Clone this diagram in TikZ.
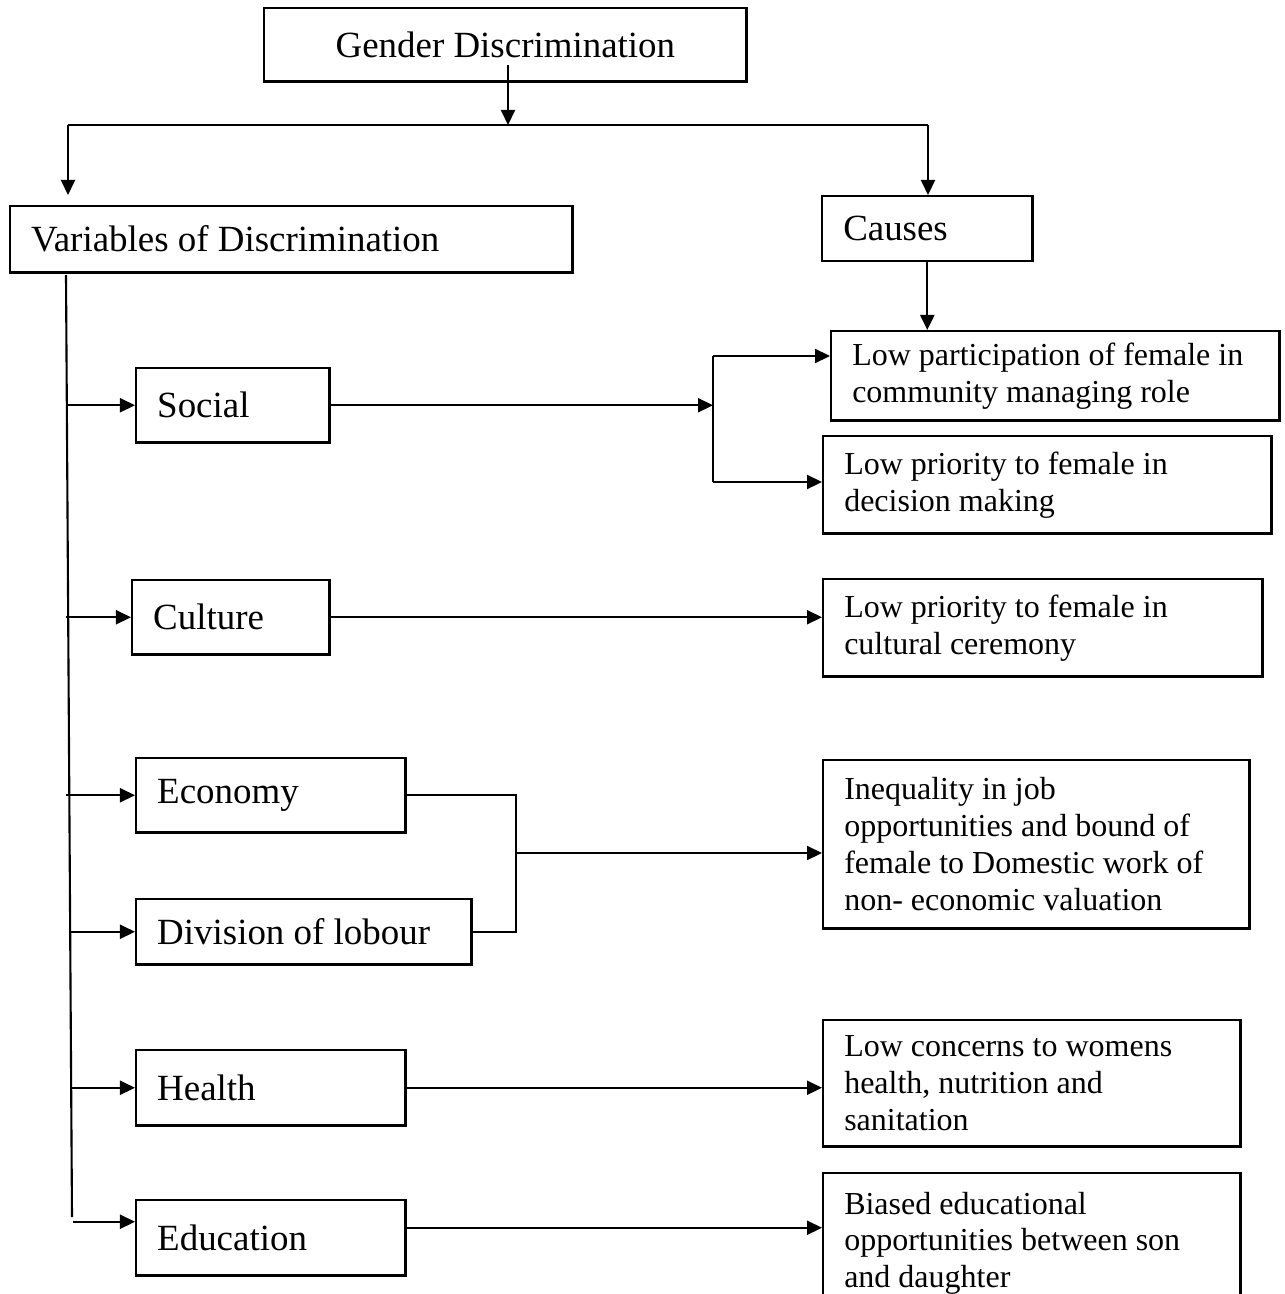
\documentclass[tikz,border=0pt]{standalone}
\usepackage{fontspec}
\setmainfont{Liberation Serif}
\usepackage{tikz}
\usetikzlibrary{arrows.meta, positioning, calc}
\tikzset{
  basebox/.style={rectangle, draw=black, line width=0.7pt, anchor=north west,
                  inner xsep=0.21cm, inner ysep=0pt},
  topnode/.style={basebox, align=center, font=\fontsize{10.5}{12.6}\selectfont},
  varnode/.style={basebox, align=flush left, font=\fontsize{10.5}{12.6}\selectfont},
  causenode/.style={basebox, align=flush left, font=\fontsize{9.1}{10.5}\selectfont},
  plainline/.style={line width=0.6pt, color=black},
  arrow/.style={-{Triangle[length=0.15cm,width=0.14cm]}, line width=0.6pt, color=black}
}
\begin{document}
\begin{tikzpicture}[x=0.01cm, y=-0.01cm]

  \useasboundingbox (0,0) rectangle (1284,1294);

  % Top boxes
  \node[topnode, minimum width=4.82cm, minimum height=0.73cm] (gender) at (263,7)
      {Gender Discrimination};
  \node[varnode, text width=5.20cm, minimum height=0.66cm] (variables) at (9,205)
      {Variables of Discrimination};
  \node[varnode, text width=1.68cm, minimum height=0.65cm] (causes) at (821,195)
      {Causes};

  % Variables
  \node[varnode, text width=1.51cm, minimum height=0.74cm] (social) at (135,367) {Social};
  \node[varnode, text width=1.55cm, minimum height=0.74cm] (culture) at (131,579) {Culture};
  \node[varnode, text width=2.27cm, minimum height=0.74cm] (economy) at (135,757) {Economy};
  \node[varnode, text width=2.93cm, minimum height=0.65cm] (division) at (135,898)
      {Division of lobour};
  \node[varnode, text width=2.27cm, minimum height=0.75cm] (health) at (135,1049) {Health};
  \node[varnode, text width=2.27cm, minimum height=0.75cm] (education) at (135,1199) {Education};

  % Causes
  \node[causenode, text width=4.06cm, minimum height=0.89cm] (c_part) at (830,330)
      {Low participation of female in\\community managing role};
  \node[causenode, text width=4.06cm, minimum height=0.97cm] (c_decision) at (822,435)
      {Low priority to female in\\decision making};
  \node[causenode, text width=3.97cm, minimum height=0.97cm] (c_culture) at (822,578)
      {Low priority to female in\\cultural ceremony};
  \node[causenode, text width=3.84cm, minimum height=1.68cm] (c_job) at (822,759)
      {Inequality in job\\opportunities and bound of\\female to Domestic work of\\non- economic valuation};
  \node[causenode, text width=3.75cm, minimum height=1.26cm] (c_health) at (822,1019)
      {Low concerns to womens\\health, nutrition and\\sanitation};
  \node[causenode, text width=3.75cm, minimum height=1.40cm] (c_edu) at (822,1172)
      {Biased educational\\opportunities between son\\and daughter};

  % Junction points
  \coordinate (split) at (508,125);
  \coordinate (barL) at (68,125);
  \coordinate (barR) at (928,125);
  \coordinate (spineT) at (66,275);
  \coordinate (spineB) at (72,1217);
  \coordinate (sjoin) at (713,405);
  \coordinate (sTop) at (713,356);
  \coordinate (sBot) at (713,482);
  \coordinate (ejoin) at (516,853);
  \coordinate (eduOut) at ([yshift=0.1cm]education.east);

  % Arrows
  \draw[arrow] ([yshift=0.17cm]split |- gender.south) -- (split);
  \draw[plainline] (barL) -- (barR);
  \draw[arrow] (barL) -- ([yshift=0.1cm]barL |- variables.north);
  \draw[arrow] (barR) -- (barR |- causes.north);
  \draw[arrow] ([yshift=0.02cm]causes.south) -- (causes.south |- c_part.north);

  \draw[plainline] (spineT) -- (spineB);
  \draw[arrow] (social.west -| spineT) -- (social.west);
  \draw[arrow] (culture.west -| spineT) -- (culture.west);
  \draw[arrow] (economy.west -| spineT) -- (economy.west);
  \draw[arrow] ([xshift=0.04cm]division.west -| spineT) -- (division.west);
  \draw[arrow] ([xshift=0.05cm]health.west -| spineT) -- (health.west);
  \draw[arrow] ([xshift=0.07cm,yshift=0.16cm]education.west -| spineT)
      -- ([yshift=0.16cm]education.west);

  \draw[arrow] (social.east) -- (social.east -| sjoin);
  \draw[plainline] (sTop) -- (sBot);
  \draw[arrow] (sTop) -- (sTop -| c_part.west);
  \draw[arrow] (sBot) -- (sBot -| c_decision.west);

  \draw[arrow] (culture.east) -- (culture.east -| c_culture.west);

  \draw[plainline] (economy.east) -| (ejoin) |- (division.east);
  \draw[arrow] (ejoin) -- (ejoin -| c_job.west);

  \draw[arrow] (health.east) -- (health.east -| c_health.west);
  \draw[arrow] (eduOut) -- (eduOut -| c_edu.west);

\end{tikzpicture}
\end{document}
